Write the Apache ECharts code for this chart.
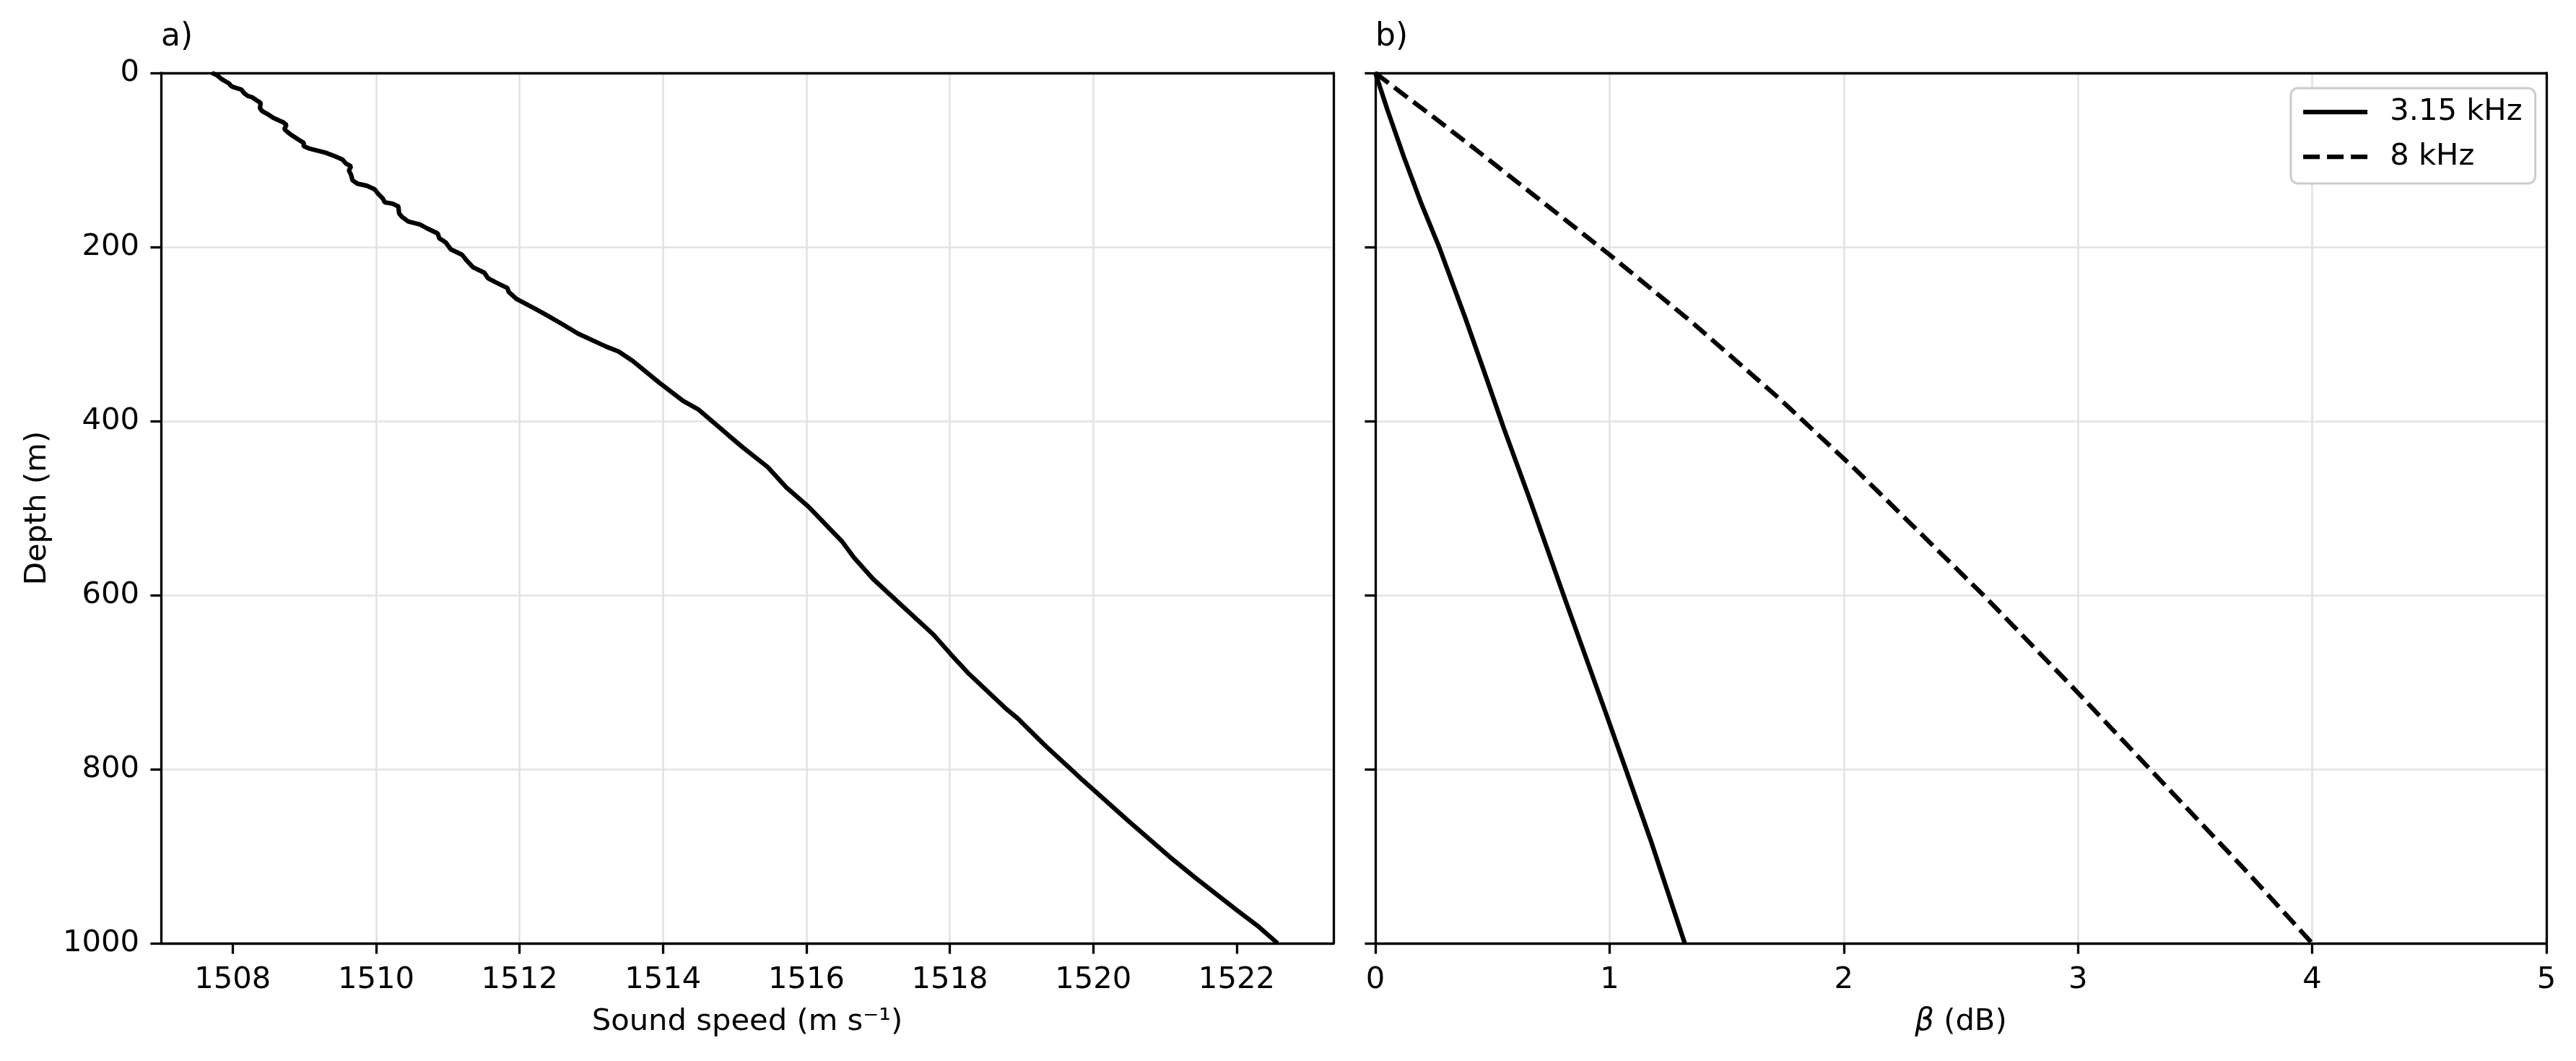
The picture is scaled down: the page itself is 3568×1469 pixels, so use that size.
<!DOCTYPE html>
<html><head><meta charset="utf-8">
<script src="https://cdn.jsdelivr.net/npm/echarts@6/dist/echarts.min.js"></script>
<style>html,body{margin:0;padding:0;background:#fff}#c{width:3568px;height:1469px}</style>
</head><body><div id="c"></div>
<script>
// Panel a: sound speed profile (depth in m, speed in m/s)
const depthA = [0,2.5,7.3,12.1,15.2,16.8,19.1,23.2,26.4,27.9,31.8,34.3,40.6,43.8,48.0,51.8,56.5,59.7,64.5,68.3,70.8,77.2,80.3,84.2,86.7,91.5,95.6,99.4,104.2,107.3,112.1,116.9,123.2,127.3,129.6,133.7,139.1,143.9,148.6,150.2,153.4,161.3,165.4,170.8,174.0,178.1,184.5,189.9,194.7,202.6,209.0,215.3,223.2,229.6,235.9,240.7,247.1,251.8,259.8,272.5,278.8,289.3,299.3,314.5,320,331,356,376.8,386.5,416.8,430.7,452.8,476.3,498.5,538.6,556.5,581.4,611.9,645.2,668.5,690.7,729.5,741.9,773.7,804,812.4,859.5,901,924.5,961.8,979.8,1000];
const speedA = [1507.71,1507.78,1507.85,1507.95,1507.98,1508.03,1508.12,1508.16,1508.21,1508.27,1508.34,1508.39,1508.38,1508.41,1508.50,1508.57,1508.70,1508.75,1508.72,1508.77,1508.81,1508.93,1508.99,1508.99,1509.06,1509.29,1509.42,1509.53,1509.58,1509.65,1509.62,1509.65,1509.67,1509.74,1509.87,1509.98,1510.03,1510.09,1510.12,1510.23,1510.31,1510.32,1510.36,1510.45,1510.61,1510.70,1510.86,1510.88,1510.97,1511.04,1511.20,1511.26,1511.35,1511.51,1511.56,1511.67,1511.83,1511.85,1511.96,1512.25,1512.39,1512.61,1512.81,1513.21,1513.38,1513.58,1513.95,1514.28,1514.49,1514.92,1515.12,1515.46,1515.72,1516.03,1516.50,1516.66,1516.93,1517.33,1517.77,1518.02,1518.27,1518.77,1518.95,1519.34,1519.74,1519.85,1520.49,1521.07,1521.42,1522.00,1522.29,1522.57];

// Panel b: beta (dB) vs depth
const depth315 = [0,42.7,96.7,150.6,199.8,280.8,344.3,407.9,490.5,601,728.6,800.7,881.2,1000];
const beta315  = [0,0.052,0.122,0.197,0.272,0.383,0.466,0.548,0.660,0.805,0.975,1.070,1.175,1.321];
const depth8 = [0,22,49,87,137.9,207.8,287.2,373,455.6,601,703.8,800.7,913.1,1000];
const beta8  = [0,0.107,0.240,0.424,0.665,0.995,1.355,1.72,2.05,2.60,2.97,3.31,3.705,4.0];

const speedTicks = [1508,1510,1512,1514,1516,1518,1520,1522];
const depthTicks = [0,200,400,600,800,1000];
const betaTicks = [0,1,2,3,4,5];

const FONT = 'DejaVu Sans';
const FS = 41.7;
const LW = 6.25;
const SPINE = 3.3;
const GRIDC = '#e3e3e3';

function zip(xs, ys){ return ys.map((y,i)=>[xs[i], y]); }
const plain = v => String(v);

const axisCommon = {
  axisLine:{show:true,onZero:false,lineStyle:{color:'#000',width:SPINE}},
  axisTick:{show:true,inside:false,length:14.6,lineStyle:{color:'#000',width:SPINE}},
  splitLine:{show:true,showMinLine:false,showMaxLine:false,lineStyle:{color:GRIDC,width:2.6}},
  axisLabel:{color:'#000',fontFamily:FONT,fontSize:FS,margin:30,formatter:plain},
  nameTextStyle:{color:'#000',fontFamily:FONT,fontSize:FS}
};
function frameAxis(gridIndex, position, min, max){
  return {type:'value', gridIndex, position, min, max,
    axisLine:{show:true,onZero:false,lineStyle:{color:'#000',width:SPINE}},
    axisTick:{show:false}, axisLabel:{show:false}, splitLine:{show:false}};
}

const chart = echarts.init(document.getElementById('c'), null, {renderer:'canvas'});
chart.setOption({
  animation:false,
  backgroundColor:'#fff',
  grid:[
    {left:223, top:101, width:1624, height:1205, show:false},
    {left:1905, top:101, width:1622, height:1205, show:false}
  ],
  xAxis:[
    Object.assign({}, axisCommon, {
      type:'value', gridIndex:0, position:'bottom', min:1507.0, max:1523.35,
      axisTick:Object.assign({}, axisCommon.axisTick, {customValues:speedTicks}),
      axisLabel:Object.assign({}, axisCommon.axisLabel, {customValues:speedTicks}),
      name:'Sound speed (m s\u207B\u00B9)', nameLocation:'middle', nameGap:88
    }),
    Object.assign({}, axisCommon, {
      type:'value', gridIndex:1, position:'bottom', min:0, max:5, interval:1,
      name:'{i|\u03B2} (dB)', nameLocation:'middle', nameGap:88,
      nameTextStyle:{color:'#000',fontFamily:FONT,fontSize:FS,rich:{i:{fontStyle:'italic',fontFamily:FONT,fontSize:FS,color:'#000'}}}
    }),
    frameAxis(0,'top',1507.0,1523.35),
    frameAxis(1,'top',0,5)
  ],
  yAxis:[
    Object.assign({}, axisCommon, {
      type:'value', gridIndex:0, position:'left', min:0, max:1000, interval:200, inverse:true,
      name:'Depth (m)', nameLocation:'middle', nameGap:150, nameRotate:90
    }),
    Object.assign({}, axisCommon, {
      type:'value', gridIndex:1, position:'left', min:0, max:1000, interval:200, inverse:true,
      axisLabel:{show:false}
    }),
    Object.assign(frameAxis(0,'right',0,1000), {inverse:true}),
    Object.assign(frameAxis(1,'right',0,1000), {inverse:true})
  ],
  legend:{
    left:3173, top:122, orient:'vertical',
    data:['3.15 kHz','8 kHz'],
    itemWidth:89, itemHeight:20, itemGap:20,
    padding:[12,18,16,14],
    backgroundColor:'#fff', borderColor:'#cccccc', borderWidth:3, borderRadius:10,
    itemStyle:{color:'rgba(0,0,0,0)', borderWidth:0, opacity:0},
    lineStyle:{width:LW, color:'#000'},
    textStyle:{color:'#000',fontFamily:FONT,fontSize:FS,padding:[0,0,0,26]}
  },
  graphic:[
    {type:'text', x:223, y:52, style:{text:'a)', fontFamily:FONT, fontSize:44, fill:'#000', verticalAlign:'middle'}},
    {type:'text', x:1905, y:52, style:{text:'b)', fontFamily:FONT, fontSize:44, fill:'#000', verticalAlign:'middle'}}
  ],
  series:[
    {type:'line', name:'profile', xAxisIndex:0, yAxisIndex:0, data:zip(speedA, depthA), symbol:'none', lineStyle:{color:'#000',width:LW}, z:5},
    {type:'line', name:'3.15 kHz', xAxisIndex:1, yAxisIndex:1, data:zip(beta315, depth315), symbol:'none', lineStyle:{color:'#000',width:LW,type:'solid'}, itemStyle:{color:'#000'}, z:5},
    {type:'line', name:'8 kHz', xAxisIndex:1, yAxisIndex:1, data:zip(beta8, depth8), symbol:'none', lineStyle:{color:'#000',width:LW,type:[23,10]}, itemStyle:{color:'#000'}, z:5}
  ]
});
</script></body></html>
